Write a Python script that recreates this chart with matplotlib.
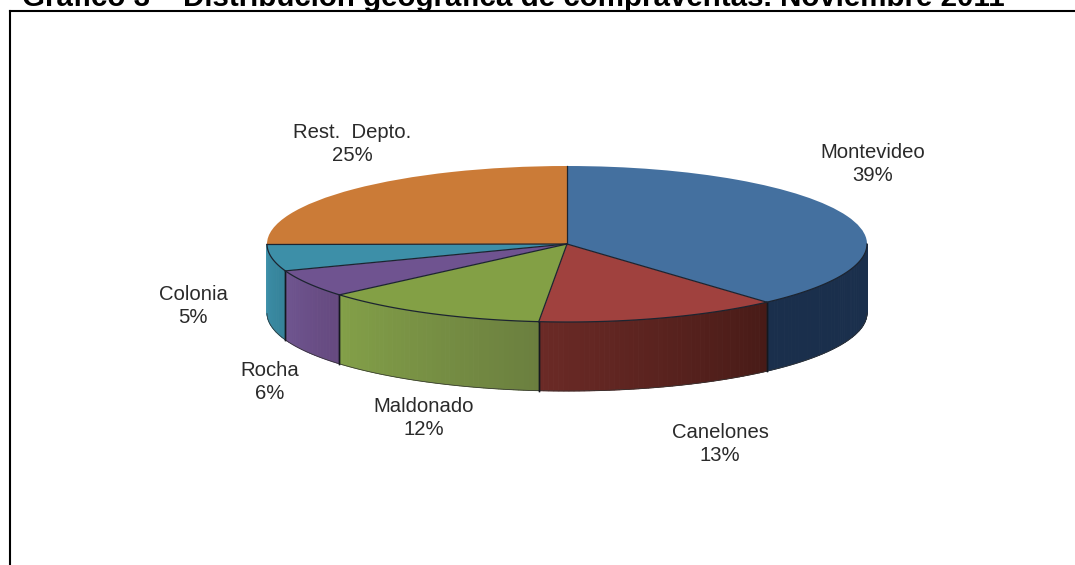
import numpy as np
import matplotlib
matplotlib.use("Agg")
import matplotlib.pyplot as plt
from matplotlib.colors import to_rgb

plt.rcParams["font.family"] = ["Liberation Sans", "DejaVu Sans"]

W, H = 1075, 565

categories = ["Montevideo", "Canelones", "Maldonado", "Rocha", "Colonia", "Rest.  Depto."]
percent_labels = ["39%", "13%", "12%", "6%", "5%", "25%"]
values = [38.4, 13.1, 12.2, 5.7, 5.5, 25.1]
top_colors = ["#44709f", "#a0413e", "#83a045", "#6f5390", "#3d8fa8", "#cb7b37"]
side_start = ["#1a2f4c", "#6b2a26", "#83a048", "#6f5590", "#3d8fa8", "#cb7b37"]
side_end = ["#1a2f4c", "#481b17", "#6b7f3f", "#65497f", "#358299", "#cb7b37"]
label_pos = [(873, 164), (720, 444), (424, 418), (270, 382), (193, 306), (352, 144)]

cx, cy = 567, 244
rx, ry = 300, 78
depth = 69

fig = plt.figure(figsize=(W / 100, H / 100), dpi=100)
ax = fig.add_axes([0, 0, 1, 1])

# top of the pie, one axis unit is rx across and ry down, so it comes out flat
wedges, _ = ax.pie(values, startangle=90, counterclock=False, colors=top_colors,
                   wedgeprops={"linewidth": 0}, frame=True)
for w in wedges:
    w.set_zorder(5)
ax.set_aspect("auto")
ax.set_xlim(-cx / rx, (W - cx) / rx)
ax.set_ylim(-(H - cy) / ry, cy / ry)
ax.axis("off")

d = depth / ry
edges = np.cumsum([0] + values) / sum(values) * 2 * np.pi

# radial lines on the top face
for a in edges[:-1]:
    ax.plot([0, np.sin(a)], [0, np.cos(a)], color="#1c2430", lw=0.9, zorder=6)

# side wall, thin strips for the shading
for i in range(len(values)):
    a0 = max(edges[i], np.pi / 2)
    a1 = min(edges[i + 1], 3 * np.pi / 2)
    # a slice that only just reaches the front has no wall worth drawing
    if a1 - a0 < 0.02:
        continue
    steps = max(int((a1 - a0) * 60), 2)
    angs = np.linspace(a0, a1, steps + 1)
    c0, c1 = np.array(to_rgb(side_start[i])), np.array(to_rgb(side_end[i]))
    for j in range(steps):
        mid = (angs[j] + angs[j + 1]) / 2
        t = 1 - (mid - a0) / (a1 - a0)
        col = c0 + (c1 - c0) * t
        seg = np.linspace(angs[j], angs[j + 1], 4)
        xs = np.sin(seg)
        ys = np.cos(seg)
        ax.fill(np.r_[xs, xs[::-1]], np.r_[ys, ys[::-1] - d], facecolor=col,
                edgecolor=col, lw=0.7, zorder=2)
    arc = np.linspace(a0, a1, 80)
    # front rim of the top face, softer line along the bottom
    ax.plot(np.sin(arc), np.cos(arc), color="#1c2430", lw=0.9, zorder=6)
    ax.plot(np.sin(arc), np.cos(arc) - d, color="#333333", lw=0.5, zorder=3)
    for a in (a0, a1):
        # no line where the wall turns away at the far left and right
        if abs(np.sin(a)) < 0.99:
            ax.plot([np.sin(a)] * 2, [np.cos(a), np.cos(a) - d], color="#14181f", lw=1.0, zorder=3)

for name, pct, (x, y) in zip(categories, percent_labels, label_pos):
    fig.text(x / W, 1 - y / H, f"{name}\n{pct}", ha="center", va="center",
             fontsize=14.6, color="#2a2a2a", linespacing=1.22)

fig.text(22 / W, 1 - 6.5 / H, "Gráfico 3 – Distribución geográfica de compraventas. Noviembre 2011",
         fontsize=21.25, fontweight="bold", color="black", ha="left", va="baseline")

# frame, cut by the image on the right and bottom
fig.add_artist(plt.Line2D([9.5 / W, 9.5 / W], [0, 1 - 11 / H], color="black", lw=1.5))
fig.add_artist(plt.Line2D([9.5 / W, 1], [1 - 11 / H, 1 - 11 / H], color="black", lw=1.5))

fig.savefig("out.png", dpi=100)
